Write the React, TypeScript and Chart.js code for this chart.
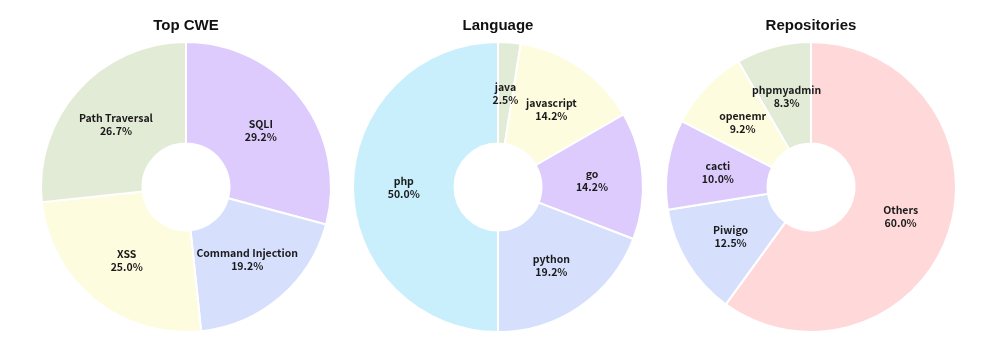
import React, { useEffect, useRef } from "react";
import { Chart, registerables } from "chart.js";

Chart.register(...registerables);

// Top CWE (counts out of 120)
const cweLabels = ["SQLI", "Command Injection", "XSS", "Path Traversal"];
const cweCounts = [35, 23, 30, 32];
const cweColors = ["#dccbfc", "#d6e0fd", "#fdfcdf", "#e1ebd6"];

// Language
const langLabels = ["java", "javascript", "go", "python", "php"];
const langCounts = [3, 17, 17, 23, 60];
const langColors = ["#e1ebd6", "#fdfcdf", "#dccbfc", "#d6e0fd", "#c9effd"];

// Repositories
const repoLabels = ["Others", "Piwigo", "cacti", "openemr", "phpmyadmin"];
const repoCounts = [72, 15, 12, 11, 10];
const repoColors = ["#ffd9d9", "#d6e0fd", "#dccbfc", "#fdfcdf", "#e1ebd6"];

const labelPlugin = {
  id: "sliceLabels",
  afterDatasetsDraw(chart: any) {
    const ctx = chart.ctx;
    const meta = chart.getDatasetMeta(0);
    const data = chart.data.datasets[0].data as number[];
    const total = data.reduce((a, b) => a + b, 0);
    ctx.save();
    ctx.fillStyle = "#1a1a1a";
    ctx.font = "bold 10.5px 'Noto Sans CJK KR', 'Noto Sans', sans-serif";
    ctx.textAlign = "center";
    ctx.textBaseline = "middle";
    meta.data.forEach((arc: any, i: number) => {
      const p = arc.tooltipPosition();
      const pct = ((data[i] / total) * 100).toFixed(1) + "%";
      ctx.fillText(String(chart.data.labels[i]), p.x, p.y - 6);
      ctx.fillText(pct, p.x, p.y + 7);
    });
    ctx.restore();
  },
};

function Donut({ title, labels, values, colors, left }: any) {
  const ref = useRef<HTMLCanvasElement>(null);
  useEffect(() => {
    const chart = new Chart(ref.current!, {
      type: "doughnut",
      data: {
        labels,
        datasets: [
          {
            data: values,
            backgroundColor: colors,
            borderColor: "#ffffff",
            borderWidth: 2,
          },
        ],
      },
      options: {
        responsive: false,
        animation: false,
        cutout: "30%",
        layout: { padding: { top: 0, bottom: 17, left: 0, right: 0 } },
        plugins: {
          legend: { display: false },
          tooltip: { enabled: false },
          title: {
            display: true,
            text: title,
            color: "#111111",
            font: { family: "'Liberation Sans', Arial, sans-serif", size: 15, weight: "bold" },
            padding: { top: 17, bottom: 6 },
          },
        },
      },
      plugins: [labelPlugin],
    });
    return () => chart.destroy();
  }, []);
  return (
    <canvas
      ref={ref}
      width={312}
      height={350}
      style={{ position: "absolute", left, top: 0, width: 312, height: 350 }}
    />
  );
}

export default function App() {
  return (
    <div style={{ position: "fixed", left: 0, top: 0, width: 997, height: 350, background: "#fff" }}>
      <Donut title="Top CWE" labels={cweLabels} values={cweCounts} colors={cweColors} left={30} />
      <Donut title="Language" labels={langLabels} values={langCounts} colors={langColors} left={342} />
      <Donut title="Repositories" labels={repoLabels} values={repoCounts} colors={repoColors} left={655} />
    </div>
  );
}
